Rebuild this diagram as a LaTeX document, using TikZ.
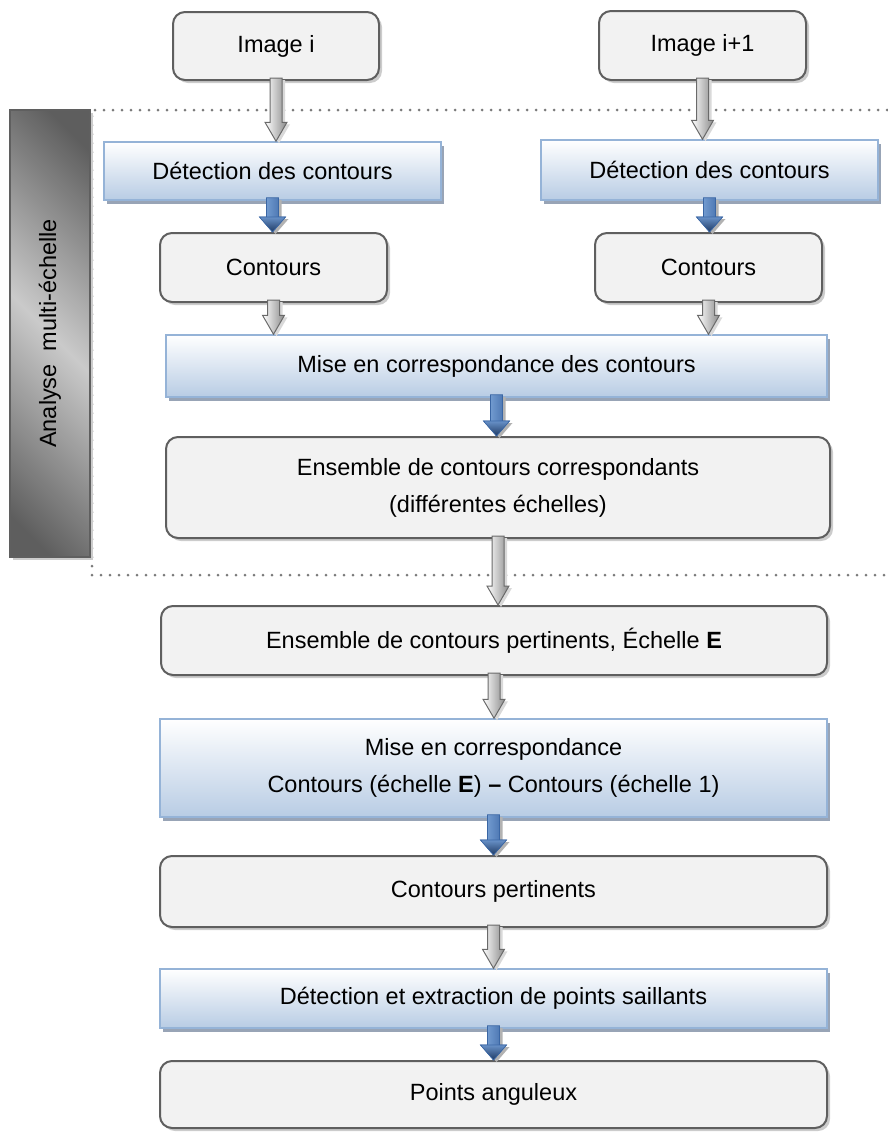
\documentclass[tikz,border=0pt]{standalone}
\usepackage{fontspec}
\setmainfont{Liberation Sans}
\usetikzlibrary{calc,shadows}

\definecolor{boxfill}{HTML}{F2F2F2}
\definecolor{boxline}{HTML}{5F5F5F}
\definecolor{stepline}{HTML}{95B3D7}
\definecolor{stepfill}{HTML}{B8CCE4}
\definecolor{stepshadow}{HTML}{98A4B6}
\definecolor{arrowgray}{HTML}{8A8A8A}
\definecolor{arrowline}{HTML}{6A6A6A}
\definecolor{arrowblueL}{HTML}{86ADDF}
\definecolor{arrowblueD}{HTML}{3A66A4}
\definecolor{arrownavy}{HTML}{1F3A63}
\definecolor{bardark}{HTML}{5E5E5E}
\definecolor{barlight}{HTML}{CACACA}
\definecolor{dotgray}{HTML}{7A7A7A}

\pgfdeclarehorizontalshading{barshade}{100bp}{color(0bp)=(bardark); color(20bp)=(bardark);
  color(50bp)=(barlight); color(80bp)=(bardark); color(100bp)=(bardark)}

\tikzset{
  databox/.style={draw=boxline, fill=boxfill, line width=2pt, rounded corners=12pt, align=center,
    drop shadow={shadow xshift=3pt, shadow yshift=-3pt, fill=black!20, opacity=1}},
  stepbox/.style={draw=stepline, line width=1.5pt, top color=white, bottom color=stepfill, align=center,
    drop shadow={shadow xshift=3pt, shadow yshift=-4pt, fill=stepshadow, opacity=1}},
  grayarr/.style={draw=arrowline, line width=1pt, left color=white, right color=arrowgray,
    drop shadow={shadow xshift=3pt, shadow yshift=-2pt, fill=black!15, opacity=1}},
  bluearr/.style={draw=arrowblueD, line width=0.6pt, left color=arrowblueL, right color=arrowblueD,
    drop shadow={shadow xshift=3pt, shadow yshift=-2pt, fill=black!30, opacity=1}},
  bluehead/.style={draw=arrowblueD, line width=0.6pt, top color=arrowblueL!60!arrowblueD, bottom color=arrownavy},
  frameline/.style={dotgray, line width=3pt, dash pattern=on 0pt off 9pt, line cap=round},
  sidebar/.style={draw=boxline, line width=2pt, shading=barshade, shading angle=45,
    drop shadow={shadow xshift=3pt, shadow yshift=-3pt, fill=black!20, opacity=1}},
}

% Block arrows, from the bottom of one node down to the top of the next.
\newcommand{\grayflow}[2]{%
  \draw[grayarr] let \p1=(#1.south), \p2=(#1.south |- #2.north) in
    (\x1-6pt,\y1+3pt) -- (\x1+6pt,\y1+3pt) -- (\x1+6pt,\y2+19pt) -- (\x1+11pt,\y2+19pt)
    -- (\x2,\y2) -- (\x1-11pt,\y2+19pt) -- (\x1-6pt,\y2+19pt) -- cycle;}
\newcommand{\blueflow}[2]{%
  \draw[bluearr] let \p1=(#1.south), \p2=(#1.south |- #2.north) in
    (\x1-6pt,\y1+3pt) -- (\x1+6pt,\y1+3pt) -- (\x1+6pt,\y2+15pt) -- (\x1+13pt,\y2+15pt)
    -- (\x2,\y2) -- (\x1-13pt,\y2+15pt) -- (\x1-6pt,\y2+15pt) -- cycle;
  \draw[bluehead] let \p2=(#1.south |- #2.north) in
    (\x2-13pt,\y2+15pt) -- (\x2+13pt,\y2+15pt) -- (\x2,\y2) -- cycle;}

\begin{document}
\begin{tikzpicture}[x=1pt, y=-1pt, font=\fontsize{23.5}{37}\selectfont]
    \useasboundingbox (0,0) rectangle (887,1133);

    % Multi-scale frame.
    \draw[frameline] (887,110) -- (92,110) -- (92,575) -- (887,575);
    \path[sidebar] (10,110) rectangle (90,557);
    \node[rotate=90] (side) at (50,333.5) {Analyse\ \ multi-échelle};

    % Two input images.
    \node[databox, minimum width=206, minimum height=68] (imgA) at (276,46) {Image i};
    \node[databox, minimum width=207, minimum height=69] (imgB) at (702.5,45.5) {Image i+1};

    \node[stepbox, minimum width=337, minimum height=58] (detA) at (272.5,171) {Détection des contours};
    \node[stepbox, minimum width=337, minimum height=60] (detB) at (709.5,170) {Détection des contours};

    \node[databox, minimum width=227, minimum height=69] (contA) at (273.5,267.5) {Contours};
    \node[databox, minimum width=227, minimum height=69] (contB) at (708.5,267.5) {Contours};

    % Matching.
    \node[stepbox, minimum width=661, minimum height=62] (mise) at (496.5,366) {Mise en correspondance des contours};
    \node[databox, minimum width=664, minimum height=101] (ens) at (498,487.5)
        {Ensemble de contours correspondants\\(différentes échelles)};

    % Below the frame.
    \node[databox, minimum width=666, minimum height=69] (pert) at (494,640.5)
        {Ensemble de contours pertinents, Échelle \textbf{E}};
    \node[stepbox, minimum width=667, minimum height=98] (miseE) at (493.5,768)
        {Mise en correspondance\\Contours (échelle \textbf{E}) \textbf{–} Contours (échelle 1)};
    \node[databox, minimum width=667, minimum height=71] (contP) at (493.5,891.5) {Contours pertinents};
    \node[stepbox, minimum width=667, minimum height=59] (extr) at (493.5,998.5)
        {Détection et extraction de points saillants};
    \node[databox, minimum width=667, minimum height=67] (pts) at (493.5,1094.5) {Points anguleux};

    % Arrows.
    \grayflow{imgA}{detA}
    \grayflow{imgB}{detB}
    \blueflow{detA}{contA}
    \blueflow{detB}{contB}
    \grayflow{contA}{mise}
    \grayflow{contB}{mise}
    \blueflow{mise}{ens}
    \grayflow{ens}{pert}
    \grayflow{pert}{miseE}
    \blueflow{miseE}{contP}
    \grayflow{contP}{extr}
    \blueflow{extr}{pts}

\end{tikzpicture}
\end{document}
